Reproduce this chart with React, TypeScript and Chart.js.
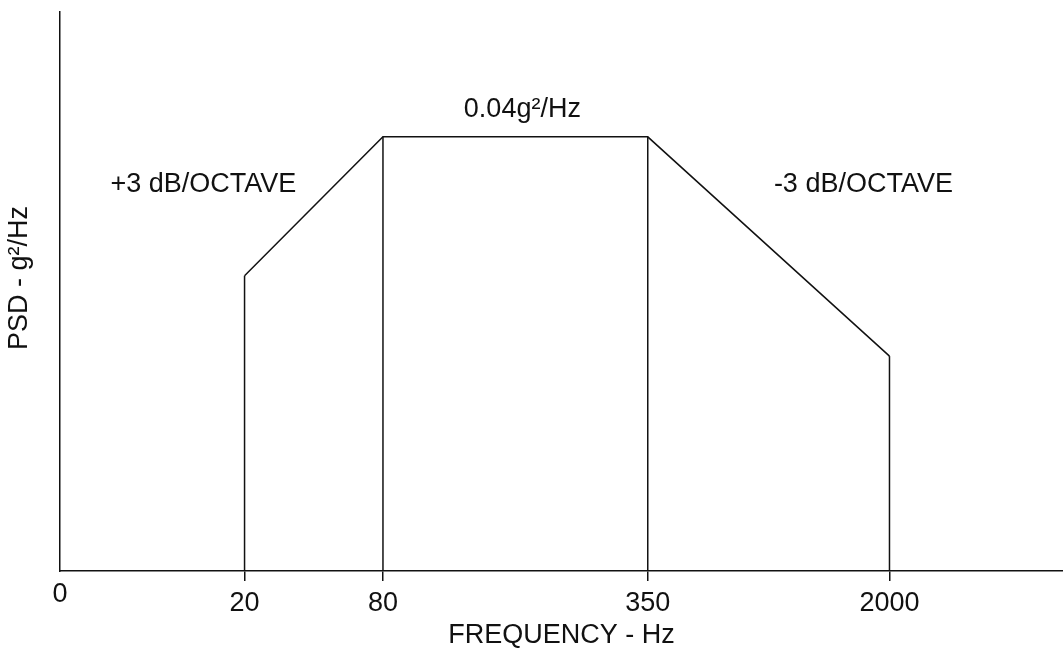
import React, { useEffect, useRef } from "react";
import { Chart, registerables } from "chart.js";

Chart.register(...registerables);

// Schematic PSD profile (frequency axis is not to scale in the original)
const frequencies = ["20", "80", "350", "2000"];
// position of each breakpoint along the schematic frequency axis (0..100)
const axisPositions = [18.4, 32.2, 58.6, 82.7];
// PSD level at each breakpoint (g²/Hz, schematic)
const psdLevels = [0.0272, 0.04, 0.04, 0.0198];

const xAxisMax = 100;
const yAxisMax = 0.0515;

const annotationTexts = ["0.04g²/Hz", "+3 dB/OCTAVE", "-3 dB/OCTAVE"];
const annotationX = [46.1, 14.3, 80.1];
const annotationY = [0.0425, 0.0356, 0.0356];

const xTitle = "FREQUENCY - Hz";
const yTitle = "PSD - g²/Hz";
const originLabel = "0";

const FONT = "'Liberation Sans', Arial, sans-serif";
const INK = "#111111";
const FS = 27;

const textPlugin = {
  id: "schematicText",
  afterDraw(chart: any) {
    const { ctx, scales, chartArea } = chart;
    const xs = scales.x;
    const ys = scales.y;
    ctx.save();
    ctx.fillStyle = INK;
    ctx.font = `${FS}px ${FONT}`;
    ctx.textAlign = "center";
    ctx.textBaseline = "middle";
    annotationTexts.forEach((t, i) => {
      ctx.fillText(t, xs.getPixelForValue(annotationX[i]), ys.getPixelForValue(annotationY[i]));
    });
    // origin label
    ctx.fillText(originLabel, xs.getPixelForValue(0), chartArea.bottom + 24);
    // y axis title
    ctx.translate(20, 278);
    ctx.rotate(-Math.PI / 2);
    ctx.fillText(yTitle, 0, 0);
    ctx.restore();
  },
};

export default function App() {
  const ref = useRef<HTMLCanvasElement | null>(null);

  useEffect(() => {
    document.body.style.margin = "0";
    const canvas = ref.current;
    if (!canvas) return;

    const lineStyle = {
      borderColor: INK,
      borderWidth: 1.5,
      pointRadius: 0,
      fill: false,
      tension: 0,
    };

    const datasets: any[] = [
      {
        ...lineStyle,
        label: "PSD",
        data: axisPositions.map((x, i) => ({ x, y: psdLevels[i] })),
      },
      ...axisPositions.map((x, i) => ({
        ...lineStyle,
        label: `f${frequencies[i]}`,
        data: [
          { x, y: 0 },
          { x, y: psdLevels[i] },
        ],
      })),
    ];

    const chart = new Chart(canvas, {
      type: "line",
      data: { datasets },
      plugins: [textPlugin],
      options: {
        responsive: false,
        animation: false,
        layout: { padding: { top: 12, left: 0, right: 0, bottom: 0 } },
        plugins: {
          legend: { display: false },
          tooltip: { enabled: false },
        },
        scales: {
          x: {
            type: "linear",
            min: 0,
            max: xAxisMax,
            afterFit: (s: any) => {
              s.height = 81;
            },
            afterBuildTicks: (s: any) => {
              s.ticks = axisPositions.map((v) => ({ value: v }));
            },
            ticks: {
              callback: (v: any) => {
                const i = axisPositions.indexOf(Number(v));
                return i >= 0 ? frequencies[i] : "";
              },
              font: { size: FS, family: FONT },
              color: INK,
              padding: 6,
              maxRotation: 0,
              autoSkip: false,
            },
            grid: {
              display: true,
              drawOnChartArea: false,
              drawTicks: true,
              tickLength: 10,
              color: INK,
              lineWidth: 1.5,
            },
            border: { display: true, color: INK, width: 1.5 },
            title: {
              display: true,
              text: xTitle,
              font: { size: FS, family: FONT },
              color: INK,
              padding: { top: 0, bottom: 0 },
            },
          },
          y: {
            type: "linear",
            min: 0,
            max: yAxisMax,
            afterFit: (s: any) => {
              s.width = 60;
            },
            ticks: { display: false },
            grid: { display: false },
            border: { display: true, color: INK, width: 1.5 },
          },
        },
      },
    });

    return () => chart.destroy();
  }, []);

  return <canvas ref={ref} width={1063} height={652} style={{ display: "block" }} />;
}
